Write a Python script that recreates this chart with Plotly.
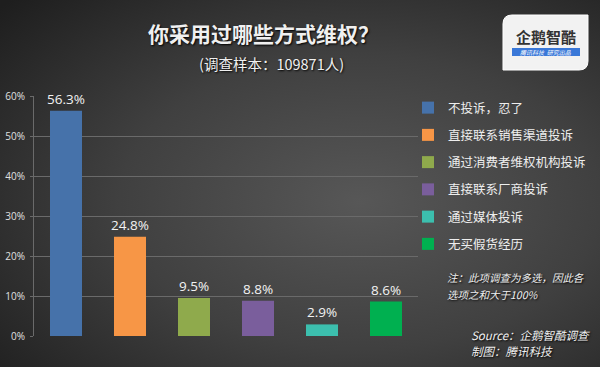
import base64
import plotly.graph_objects as go

categories = ["不投诉，忍了", "直接联系销售渠道投诉", "通过消费者维权机构投诉",
              "直接联系厂商投诉", "通过媒体投诉", "无买假货经历"]
values = [56.3, 24.8, 9.5, 8.8, 2.9, 8.6]
labels = ["56.3%", "24.8%", "9.5%", "8.8%", "2.9%", "8.6%"]
colors = ["#4672AA", "#F79646", "#8FAA4C", "#7A5E9C", "#3CBFAE", "#00B050"]
tick_vals = [0, 10, 20, 30, 40, 50, 60]
tick_text = ["0%", "10%", "20%", "30%", "40%", "50%", "60%"]

FONT = "Noto Sans CJK SC, Noto Sans, sans-serif"

fig = go.Figure()
for c, v, lab, col in zip(categories, values, labels, colors):
    fig.add_trace(go.Bar(
        x=[c], y=[v], name=c, marker=dict(color=col, line=dict(width=0)),
        width=0.5, text=[lab], textposition="outside", constraintext="none",
        textfont=dict(color="#f2f2f2", size=13.5, family="Open Sans, sans-serif"),
        cliponaxis=False, legendgroup=c,
    ))

# radial gradient background
svg = ('<svg xmlns="http://www.w3.org/2000/svg" width="600" height="367">'
       '<defs><radialGradient id="g" cx="0.6" cy="0.55" r="0.8">'
       '<stop offset="0" stop-color="#575757"/>'
       '<stop offset="0.5" stop-color="#404040"/>'
       '<stop offset="1" stop-color="#1e1e1e"/></radialGradient></defs>'
       '<rect width="600" height="367" fill="url(#g)"/></svg>')
bg = "data:image/svg+xml;base64," + base64.b64encode(svg.encode()).decode()

fig.update_layout(
    width=600, height=367,
    margin=dict(l=34, r=182, t=96, b=31, autoexpand=False),
    paper_bgcolor="#333333", plot_bgcolor="rgba(0,0,0,0)",
    barmode="overlay",
    font=dict(family=FONT, color="#eeeeee"),
    showlegend=True,
    legend=dict(x=(408 - 34) / 384, y=(336 - 93) / 240, xanchor="left", yanchor="top",
                font=dict(size=12.5, color="#eeeeee", family=FONT),
                bgcolor="rgba(0,0,0,0)", tracegroupgap=8,
                itemwidth=30),
    xaxis=dict(showticklabels=False, showgrid=False, zeroline=False,
               showline=False, ticks="", fixedrange=True),
    yaxis=dict(range=[0, 60], tickvals=tick_vals, ticktext=tick_text,
               showgrid=True, gridcolor="#6a6a6a", gridwidth=1,
               showline=True, linecolor="#6a6a6a", linewidth=1,
               ticks="outside", ticklen=3, tickcolor="#6a6a6a",
               ticklabelstandoff=3,
               tickfont=dict(size=10, color="#e0e0e0", family="Open Sans, sans-serif"),
               zeroline=False),
    images=[dict(source=bg, xref="paper", yref="paper", x=-34/384, y=1+96/240,
                 sizex=600/384, sizey=367/240, xanchor="left", yanchor="top",
                 sizing="stretch", layer="below")],
)

def add_text(txt, x, y, size, xanchor="center", bold=False, italic=False,
             color="#f0f0f0", shadow="1px 1px 2px #000000"):
    fig.add_annotation(text=("<b>%s</b>" % txt) if bold else txt,
                       xref="paper", yref="paper",
                       x=(x - 34) / 384, y=(336 - y) / 240,
                       xanchor=xanchor, yanchor="middle", showarrow=False,
                       font=dict(size=size, color=color, family=FONT,
                                 style="italic" if italic else "normal",
                                 shadow=shadow))

add_text("你采用过哪些方式维权？", 263, 33, 21, bold=True)
add_text("(调查样本：109871人)", 271, 63, 14.5)
add_text("注：此项调查为多选，因此各", 445, 277, 10.5, xanchor="left", italic=True)
add_text("选项之和大于100%", 445, 294, 10.5, xanchor="left", italic=True)
add_text("Source：企鹅智酷调查", 469, 335, 11.5, xanchor="left", italic=True)
add_text("制图：腾讯科技", 469, 351, 11.5, xanchor="left", italic=True)

# logo box
def P(x, y):
    return "%f,%f" % ((x - 34) / 384, (336 - y) / 240)

r = 9
x0, x1, y0, y1 = 503, 588, 15, 70
path = ("M " + P(x0 + r, y0) + " L " + P(x1, y0) + " L " + P(x1, y1 - r) +
        " Q " + P(x1, y1) + " " + P(x1 - r, y1) + " L " + P(x0, y1) +
        " L " + P(x0, y0 + r) + " Q " + P(x0, y0) + " " + P(x0 + r, y0) + " Z")
fig.add_shape(type="path", path=path, xref="paper", yref="paper",
              fillcolor="#f2f2f2", line=dict(color="#ffffff", width=1), layer="above")
fig.add_shape(type="rect", xref="paper", yref="paper",
              x0=(512 - 34) / 384, x1=(580 - 34) / 384,
              y0=(336 - 56) / 240, y1=(336 - 48) / 240,
              fillcolor="#3a78d8", line=dict(width=0), layer="above")
add_text("<b>企鹅智酷</b>", 546, 36, 15, color="#333333", shadow="none")
add_text("<i>腾讯科技  研究出品</i>", 546, 52, 6, color="#ffffff", shadow="none")

fig.write_html("out.html", config={"displayModeBar": False},
               post_script="document.body.style.margin='0px';")
